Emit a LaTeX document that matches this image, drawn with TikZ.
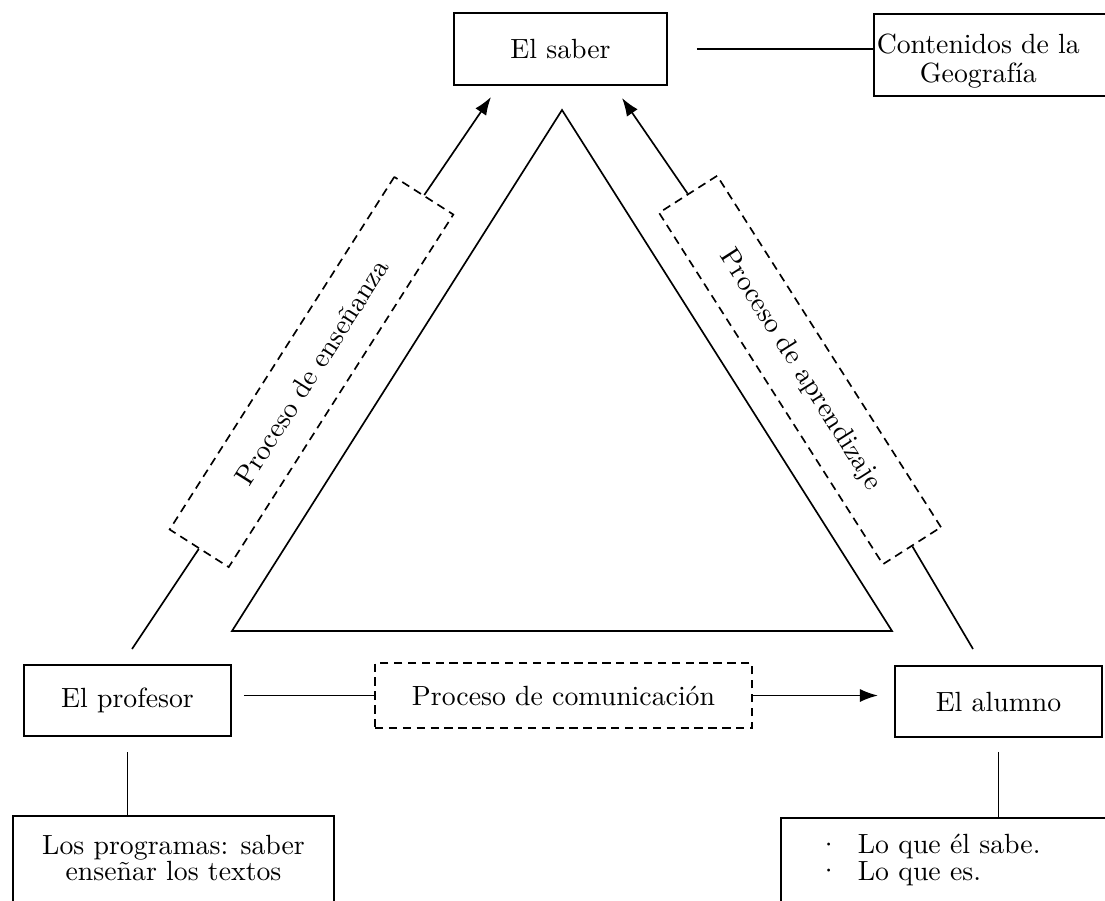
\documentclass[tikz,border=0pt]{standalone}
\usepackage{fontspec}
\usepackage{tikz}
\usetikzlibrary{calc}
\usetikzlibrary{arrows.meta}

\begin{document}
\begin{tikzpicture}[x=0.36pt,y=-0.36pt]
    \tikzstyle{every node}=[draw=black,line width=0.7pt,font=\fontsize{10pt}{9.7pt}\selectfont,align=center,inner sep=2pt]
    \tikzstyle{wnode}=[minimum width=74.5pt,minimum height=25.6pt]
    \tikzstyle{dnode}=[dash pattern=on 3pt off 2pt,line width=0.6pt,fill=white]
    \tikzstyle{lin}=[line width=0.6pt]
    \tikzstyle{pfeil}=[line width=0.6pt,-{Latex[length=6.5pt,width=4.7pt]}]

    \useasboundingbox (0,0) rectangle (1105,900);
    \clip (0,0) rectangle (1105,900);

    \draw[lin] (232,631) -- (562,110) -- (892,631) -- cycle;

    \node[wnode,minimum width=76.7pt,minimum height=25.9pt] (saber) at (560.5,49) {El saber};
    \node[wnode] (profesor) at (127.5,700.5) {El profesor};
    \node[wnode] (alumno) at (998.5,701.5) {El alumno};

    \node[anchor=north west,inner xsep=1pt,font=\fontsize{10pt}{10.4pt}\selectfont] (contenidos) at (873,13)
        {\rule{0pt}{12.4pt}Contenidos de la\hspace*{30pt}\\Geograf\'ia\hspace*{30pt}\rule[-2.7pt]{0pt}{2.7pt}};

    \node[anchor=north west,minimum width=115.6pt] (programas) at (12,815)
        {\rule{0pt}{11.7pt}Los programas: saber\\ense\~nar los textos\rule[-10pt]{0pt}{10pt}};
    \node[anchor=north west,align=left,text width=108pt,inner xsep=15.8pt] (lista) at (780,817)
        {\rule{0pt}{10.9pt}\raisebox{1pt}{$\cdot$}\hspace{9.1pt}Lo que \'el sabe.\\\raisebox{1pt}{$\cdot$}\hspace{9.1pt}Lo que es.\rule[-10pt]{0pt}{10pt}};

    \node[dnode,rotate=57.5,minimum width=150.5pt,minimum height=25.2pt] (ensenanza) at (311.5,372) {Proceso de ense\~nanza};
    \node[dnode,rotate=-57.5,minimum width=150pt,minimum height=24.8pt] (aprendizaje) at (800,370) {Proceso de aprendizaje};
    \node[dnode,minimum width=135.7pt,minimum height=23.4pt] (comunicacion) at (563.5,695.5) {Proceso de comunicaci\'on};

    \coordinate (pstart) at (132,649);
    \coordinate (astart) at (973,649);
    \coordinate (etip) at (491,97);
    \coordinate (atip) at (622,98);

    \draw[lin] (pstart) -- (ensenanza.west);
    \draw[pfeil] (ensenanza.east) -- (etip);
    \draw[lin] (astart) -- (aprendizaje.east);
    \draw[pfeil] (aprendizaje.west) -- (atip);

    \draw[lin] ([xshift=10.4pt]saber.east) -- (saber.east -| contenidos.west);
    \draw[lin] ($(profesor.east |- comunicacion.west)+(4.3pt,0)$) -- (comunicacion.west);
    \draw[pfeil] (comunicacion.east) -- ($(alumno.west |- comunicacion.east)+(-5.8pt,0)$);

    \draw[lin] ([yshift=-5.4pt]profesor.south) -- (profesor.south |- programas.north);
    \draw[lin] ([yshift=-5pt]alumno.south) -- (alumno.south |- lista.north);

  \end{tikzpicture}
\end{document}
